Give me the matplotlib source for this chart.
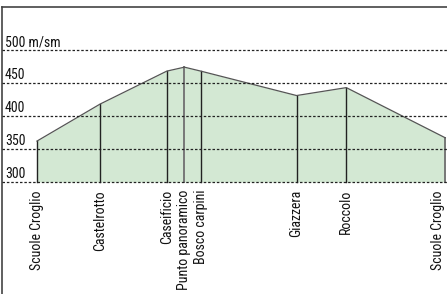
import matplotlib
matplotlib.use("Agg")
import matplotlib.pyplot as plt
from matplotlib import font_manager

places = ["Scuole Croglio", "Castelrotto", "Caseificio", "Punto panoramico",
          "Bosco carpini", "Giazzera", "Roccolo", "Scuole Croglio"]
distance_km = [0.0, 1.0, 2.06, 2.34, 2.60, 4.12, 4.91, 6.48]
elevation_m = [362, 418, 468, 474, 468, 431, 443, 367]
y_ticks = [300, 350, 400, 450, 500]
y_tick_labels = ["300", "350", "400", "450", "500 m/sm"]

names = {f.name for f in font_manager.fontManager.ttflist}
fam, stretch = "DejaVu Sans", "condensed"
for cand in ["Roboto Condensed", "Liberation Sans Narrow", "Archivo Narrow", "Barlow Condensed"]:
    if cand in names:
        fam, stretch = cand, "normal"
        break
plt.rcParams['font.family'] = [fam, 'DejaVu Sans']
plt.rcParams['font.stretch'] = stretch

W, H = 447, 294
fig = plt.figure(figsize=(W / 100, H / 100), dpi=100)
left_px, right_px, top_px, bottom_px = 2, 447, 7, 294
ax = fig.add_axes([left_px / W, 1 - bottom_px / H, (right_px - left_px) / W, (bottom_px - top_px) / H])

px_per_m = 33 / 50.0
base_px = 182
ymax = 300 + (base_px - top_px) / px_per_m
ymin = 300 - (bottom_px - base_px) / px_per_m
ax.set_ylim(ymin, ymax)
x_per_px = 1 / 63.0
ax.set_xlim(-35 * x_per_px, 410 * x_per_px)

ax.fill_between(distance_km, 300, elevation_m, color="#d3e8d3", lw=0, zorder=1)
ax.plot(distance_km, elevation_m, color="#555555", lw=0.9, zorder=3)
for i, (d, e) in enumerate(zip(distance_km, elevation_m)):
    c = "#777777" if i in (3, 7) else "#222222"
    ax.plot([d, d], [300, e], color=c, lw=1.0 if i not in (3, 7) else 1.4, zorder=2)

for t, lab in zip(y_ticks, y_tick_labels):
    ax.axhline(t, color="#222222", lw=0.9, ls=(0, (2, 1.5)), zorder=4)
    ax.text(3 * x_per_px - 35 * x_per_px, t + 1.5, lab, ha="left", va="bottom",
            fontsize=10, color="#111111", zorder=5)

label_y = 300 - 8 / px_per_m
n = len(places)
for i, (d, name) in enumerate(zip(distance_km, places)):
    ha = "right" if i == n - 1 else "center"
    ax.text(d, label_y, name, rotation=90, ha=ha, va="top",
            fontsize=10, color="#111111")

ax.set_xticks([])
ax.set_yticks([])
for s in ("right", "bottom"):
    ax.spines[s].set_visible(False)
for s in ("left", "top"):
    ax.spines[s].set_color("#444444")
    ax.spines[s].set_linewidth(1.2)
ax.patch.set_alpha(0)

fig.savefig("out.png", dpi=100)
